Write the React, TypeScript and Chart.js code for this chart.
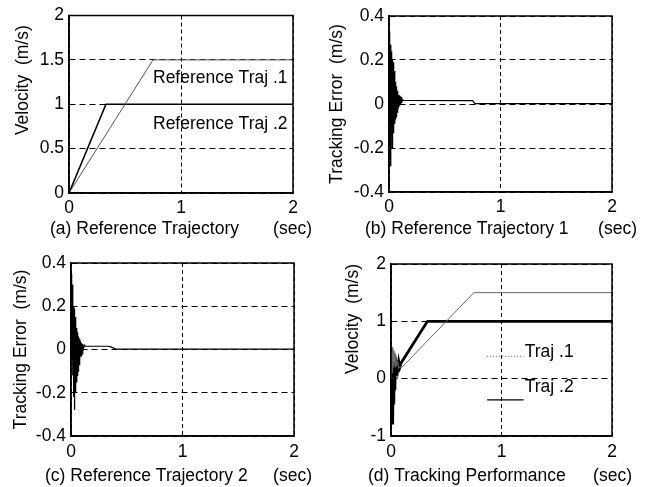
import React, { useEffect, useRef } from "react";
import { Chart, registerables } from "chart.js";

Chart.register(...registerables);

// ---------- shared ----------
const X_TICKS = [0, 1, 2];
const X_UNIT = "(sec)";

// ---------- (a) Reference Trajectory ----------
const A_Y_TICKS = [0, 0.5, 1, 1.5, 2];
const A_REF1_T = [0, 0.75, 2];
const A_REF1_V = [0, 1.5, 1.5];
const A_REF2_T = [0, 0.33, 2];
const A_REF2_V = [0, 1.0, 1.0];
const A_LABELS = ["Reference Traj .1", "Reference Traj .2"];
const A_LABEL_X = [0.75, 0.75];
const A_LABEL_Y = [1.29, 0.77];

// ---------- (b) Tracking error, trajectory 1 ----------
const ERR_Y_TICKS = [-0.4, -0.2, 0, 0.2, 0.4];
const B_T = [0, 0.004, 0.008, 0.012, 0.016, 0.02, 0.024, 0.028, 0.032, 0.036, 0.04, 0.044, 0.048, 0.052, 0.056, 0.06, 0.064, 0.068, 0.072, 0.076, 0.08, 0.085, 0.09, 0.095, 0.1, 0.105, 0.11, 0.115, 0.12, 0.13, 0.75, 0.77, 2];
const B_V = [0, 0.33, 0.05, -0.28, 0.27, -0.12, 0.24, -0.2, 0.2, -0.13, 0.19, -0.1, 0.15, -0.09, 0.1, -0.07, 0.08, -0.06, 0.06, -0.04, 0.05, -0.02, 0.04, -0.01, 0.035, 0, 0.03, 0.005, 0.02, 0.016, 0.015, 0.002, 0.002];

// ---------- (c) Tracking error, trajectory 2 ----------
const C_T = [0, 0.004, 0.008, 0.012, 0.016, 0.02, 0.024, 0.028, 0.032, 0.036, 0.04, 0.044, 0.048, 0.052, 0.056, 0.06, 0.064, 0.068, 0.072, 0.076, 0.08, 0.085, 0.09, 0.095, 0.1, 0.105, 0.11, 0.12, 0.13, 0.33, 0.36, 0.4, 2];
const C_V = [0, 0.35, -0.05, 0.3, -0.12, 0.2, -0.22, 0.19, -0.28, 0.15, -0.2, 0.12, -0.15, 0.1, -0.12, 0.08, -0.1, 0.06, -0.07, 0.05, -0.05, 0.04, -0.03, 0.03, -0.02, 0.025, 0, 0.02, 0.015, 0.015, 0.012, 0.002, 0.002];

// ---------- (d) Tracking performance ----------
const D_Y_TICKS = [-1, 0, 1, 2];
const D1_T = [0, 0.005, 0.01, 0.015, 0.02, 0.025, 0.03, 0.035, 0.04, 0.045, 0.05, 0.06, 0.07, 0.08, 0.1, 0.75, 2];
const D1_V = [0, 0.45, 0.1, 0.55, 0.2, 0.5, 0.25, 0.45, 0.2, 0.35, 0.22, 0.3, 0.18, 0.2, 0.2, 1.5, 1.5];
const D2_T = [0, 0.005, 0.01, 0.015, 0.02, 0.025, 0.03, 0.035, 0.04, 0.045, 0.05, 0.06, 0.07, 0.08, 0.09, 0.33, 2];
const D2_V = [0, -0.5, 0.2, -0.8, 0.3, -0.45, 0.25, -0.2, 0.3, 0.05, 0.25, 0.15, 0.3, 0.2, 0.27, 1.0, 1.0];
const D_LEG_X = [0.87, 1.2];
const D_LEG1_Y = [0.39, 0.39];
const D_LEG2_Y = [-0.37, -0.37];
const D_LABELS = ["Traj .1", "Traj .2"];
const D_LABEL_X = [1.21, 1.21];
const D_LABEL_Y = [0.47, -0.15];

const FONT = "'Liberation Sans', Arial, Helvetica, sans-serif";
const TICK_SIZE = 17.5;
const TITLE_SIZE = 17.5;

type Series = { t: number[]; v: number[]; color: string; width: number; dash?: number[] };
type Panel = {
  q: { x: number; y: number; w: number; h: number };
  area: { L: number; R: number; T: number; B: number };
  yMin: number;
  yMax: number;
  yTicks: number[];
  yTitle: string;
  yTitleAlign: "center" | "end";
  yTitlePad: number;
  xTickPad: number;
  caption: string;
  cap: { left: number; right: number; y: number };
  series: Series[];
  labels?: { text: string[]; x: number[]; y: number[] };
};

const PANELS: Panel[] = [
  {
    q: { x: 0, y: 0, w: 326, h: 244 },
    area: { L: 69, R: 293, T: 15, B: 193 },
    yMin: 0, yMax: 2, yTicks: A_Y_TICKS,
    yTitle: "Velocity  (m/s)  ", yTitleAlign: "end", yTitlePad: 13,
    xTickPad: 5,
    caption: "(a) Reference Trajectory",
    cap: { left: 50, right: 312, y: 229 },
    series: [
      { t: A_REF1_T, v: A_REF1_V, color: "#555", width: 1 },
      { t: A_REF2_T, v: A_REF2_V, color: "#000", width: 1.6 },
    ],
    labels: { text: A_LABELS, x: A_LABEL_X, y: A_LABEL_Y },
  },
  {
    q: { x: 326, y: 0, w: 326, h: 244 },
    area: { L: 389, R: 612, T: 16, B: 192 },
    yMin: -0.4, yMax: 0.4, yTicks: ERR_Y_TICKS,
    yTitle: "Tracking Error  (m/s)", yTitleAlign: "center", yTitlePad: 1,
    xTickPad: 5,
    caption: "(b) Reference Trajectory 1",
    cap: { left: 365, right: 637, y: 229 },
    series: [{ t: B_T, v: B_V, color: "#000", width: 1.2 }],
  },
  {
    q: { x: 0, y: 244, w: 326, h: 243 },
    area: { L: 71, R: 294, T: 263, B: 436 },
    yMin: -0.4, yMax: 0.4, yTicks: ERR_Y_TICKS,
    yTitle: "Tracking Error  (m/s)", yTitleAlign: "center", yTitlePad: 11,
    xTickPad: 6,
    caption: "(c) Reference Trajectory 2",
    cap: { left: 45, right: 312, y: 476 },
    series: [{ t: C_T, v: C_V, color: "#000", width: 1.2 }],
  },
  {
    q: { x: 326, y: 244, w: 326, h: 243 },
    area: { L: 391, R: 612, T: 264, B: 436 },
    yMin: -1, yMax: 2, yTicks: D_Y_TICKS,
    yTitle: "Velocity  (m/s)", yTitleAlign: "end", yTitlePad: 17,
    xTickPad: 6,
    caption: "(d) Tracking Performance",
    cap: { left: 368, right: 632, y: 476 },
    series: [
      { t: D1_T, v: D1_V, color: "#666", width: 1 },
      { t: D2_T, v: D2_V, color: "#000", width: 2.8 },
      { t: D_LEG_X, v: D_LEG1_Y, color: "#555", width: 1, dash: [1, 2] },
      { t: D_LEG_X, v: D_LEG2_Y, color: "#000", width: 1.2 },
    ],
    labels: { text: D_LABELS, x: D_LABEL_X, y: D_LABEL_Y },
  },
];

const boxPlugin = {
  id: "box",
  afterDraw(chart: any) {
    const { ctx, chartArea: a } = chart;
    ctx.save();
    ctx.strokeStyle = "#000";
    ctx.lineWidth = 1.5;
    ctx.setLineDash([]);
    ctx.strokeRect(a.left, a.top, a.right - a.left, a.bottom - a.top);
    ctx.restore();
  },
};

function textPlugin(p: Panel) {
  return {
    id: "texts",
    afterDraw(chart: any) {
      const { ctx } = chart;
      ctx.save();
      ctx.fillStyle = "#000";
      ctx.font = `${TITLE_SIZE}px ${FONT}`;
      ctx.textBaseline = "middle";
      if (p.labels) {
        const xs = chart.scales.x;
        const ys = chart.scales.y;
        ctx.textAlign = "left";
        p.labels.text.forEach((txt, i) => {
          ctx.fillText(txt, xs.getPixelForValue(p.labels!.x[i]), ys.getPixelForValue(p.labels!.y[i]));
        });
      }
      // caption below the x axis (canvas-local coordinates)
      const cy = p.cap.y - p.q.y;
      ctx.textAlign = "left";
      ctx.fillText(p.caption, p.cap.left - p.q.x, cy);
      ctx.textAlign = "right";
      ctx.fillText(X_UNIT, p.cap.right - p.q.x, cy);
      ctx.restore();
    },
  };
}

function buildConfig(p: Panel): any {
  const { q, area } = p;
  const yWidth = area.L - q.x;
  const xHeight = q.y + q.h - area.B;
  return {
    type: "line",
    data: {
      datasets: p.series.map((s) => ({
        data: s.t.map((t, i) => ({ x: t, y: s.v[i] })),
        borderColor: s.color,
        borderWidth: s.width,
        borderDash: s.dash || [],
        pointRadius: 0,
        tension: 0,
        fill: false,
      })),
    },
    options: {
      animation: false,
      responsive: false,
      events: [],
      layout: { padding: { left: 0, top: area.T - q.y, right: q.x + q.w - area.R, bottom: 0 } },
      plugins: { legend: { display: false }, tooltip: { enabled: false } },
      scales: {
        x: {
          type: "linear",
          min: 0,
          max: 2,
          afterBuildTicks: (s: any) => {
            s.ticks = X_TICKS.map((v) => ({ value: v }));
          },
          afterFit: (s: any) => {
            s.height = xHeight;
          },
          ticks: { padding: p.xTickPad, color: "#000", font: { size: TICK_SIZE, family: FONT }, callback: (v: any) => String(v), maxRotation: 0 },
          grid: { color: "#000", lineWidth: 1, drawTicks: false },
          border: { display: true, color: "#000", width: 1.5, dash: [4, 3] },
          title: { display: false },
        },
        y: {
          type: "linear",
          min: p.yMin,
          max: p.yMax,
          afterBuildTicks: (s: any) => {
            s.ticks = p.yTicks.map((v) => ({ value: v }));
          },
          afterFit: (s: any) => {
            s.width = yWidth;
          },
          ticks: { padding: 5, color: "#000", font: { size: TICK_SIZE, family: FONT }, callback: (v: any) => String(v) },
          grid: { color: "#000", lineWidth: 1, drawTicks: false },
          border: { display: true, color: "#000", width: 1.5, dash: [6, 4] },
          title: {
            display: true,
            text: p.yTitle,
            align: p.yTitleAlign,
            color: "#000",
            font: { size: TITLE_SIZE, family: FONT },
            padding: { top: p.yTitlePad, bottom: 0 },
          },
        },
      },
    },
    plugins: [boxPlugin, textPlugin(p)],
  };
}

export default function App() {
  const r0 = useRef<HTMLCanvasElement>(null);
  const r1 = useRef<HTMLCanvasElement>(null);
  const r2 = useRef<HTMLCanvasElement>(null);
  const r3 = useRef<HTMLCanvasElement>(null);
  const refs = [r0, r1, r2, r3];

  useEffect(() => {
    const charts = PANELS.map((p, i) => new Chart(refs[i].current as HTMLCanvasElement, buildConfig(p)));
    return () => charts.forEach((c) => c.destroy());
  }, []);

  return (
    <div style={{ position: "absolute", left: 0, top: 0, width: 652, height: 487, background: "#fff", overflow: "hidden" }}>
      {PANELS.map((p, i) => (
        <canvas
          key={i}
          ref={refs[i]}
          width={p.q.w}
          height={p.q.h}
          style={{ position: "absolute", left: p.q.x, top: p.q.y, width: p.q.w, height: p.q.h, display: "block" }}
        />
      ))}
    </div>
  );
}
